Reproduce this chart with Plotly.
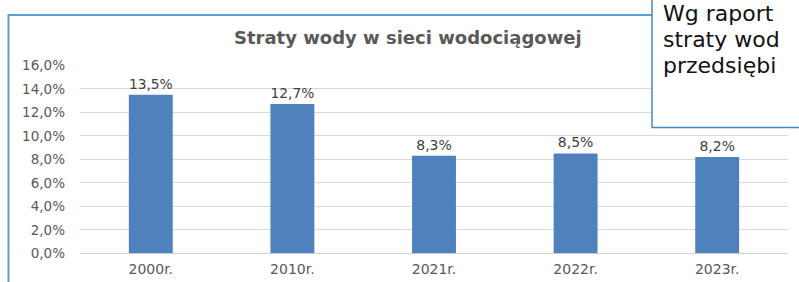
import plotly.graph_objects as go

W, H = 799, 282

categories = ["2000r.", "2010r.", "2021r.", "2022r.", "2023r."]
losses = [0.135, 0.127, 0.083, 0.085, 0.082]
y_ticks = [0.0, 0.02, 0.04, 0.06, 0.08, 0.10, 0.12, 0.14, 0.16]
title_text = "Straty wody w sieci wodociągowej"
box_lines = ["Wg raport", "straty wod", "przedsiębi"]

FONT = "DejaVu Sans"

def px_x(x):
    return x / W

def px_y(y):
    return 1 - y / H

fig = go.Figure()
fig.add_trace(go.Bar(
    x=categories,
    y=losses,
    marker=dict(color="#4F81BD", line=dict(width=0)),
    text=[f"{v*100:.1f}%".replace(".", ",") for v in losses],
    textposition="outside",
    textfont=dict(family=FONT, size=14, color="#404040"),
    cliponaxis=False,
    hoverinfo="skip",
))

fig.update_layout(
    width=W, height=H, autosize=False,
    margin=dict(l=0, r=0, t=0, b=0, pad=0),
    paper_bgcolor="white", plot_bgcolor="white",
    separators=", ",
    showlegend=False,
    bargap=0.69,
    font=dict(family=FONT, color="#595959"),
    xaxis=dict(
        domain=[px_x(80), px_x(788)],
        showgrid=False, showline=False, zeroline=False,
        ticks="", ticklabelstandoff=6, automargin=False,
        tickfont=dict(family=FONT, size=14, color="#595959"),
        fixedrange=True,
    ),
    yaxis=dict(
        domain=[px_y(253.3), px_y(65.3)],
        range=[0, 0.16],
        tickvals=y_ticks,
        tickformat=".1%",
        showgrid=True, gridcolor="#D9D9D9", gridwidth=1,
        zeroline=True, zerolinecolor="#D0D0D0", zerolinewidth=1,
        showline=False, ticks="", ticklabelstandoff=14, automargin=False,
        tickfont=dict(family=FONT, size=13.5, color="#595959"),
        fixedrange=True,
    ),
)

# chart frame: only top and left edges are inside the picture
fig.add_shape(type="path", xref="paper", yref="paper",
              path=f"M {px_x(8.5)},{px_y(282)} L {px_x(8.5)},{px_y(15)} L {px_x(799)},{px_y(15)}",
              line=dict(color="#5A9FD8", width=2), layer="below")

# overlay text box: white panel plus left and bottom edges
fig.add_shape(type="rect", xref="paper", yref="paper",
              x0=px_x(652), x1=px_x(799), y0=px_y(127.5), y1=px_y(0),
              line=dict(width=0), fillcolor="white", layer="above")
fig.add_shape(type="path", xref="paper", yref="paper",
              path=f"M {px_x(652)},{px_y(0)} L {px_x(652)},{px_y(127.5)} L {px_x(799)},{px_y(127.5)}",
              line=dict(color="#4A86C8", width=1.5), layer="above")

fig.add_annotation(text=f"<b>{title_text}</b>", xref="paper", yref="paper",
                   x=px_x(408), y=px_y(37), xanchor="center", yanchor="middle",
                   showarrow=False,
                   font=dict(family=FONT, size=18, color="#595959"))

for i, line in enumerate(box_lines):
    fig.add_annotation(text=line, xref="paper", yref="paper",
                       x=px_x(661), y=px_y(14 + 25.6 * i),
                       xanchor="left", yanchor="middle", showarrow=False,
                       font=dict(family=FONT, size=22, color="#111111"))

fig.write_html(
    "out.html",
    config={"responsive": False, "displayModeBar": False},
    post_script="document.body.style.margin='0';document.body.style.overflow='hidden';",
)
